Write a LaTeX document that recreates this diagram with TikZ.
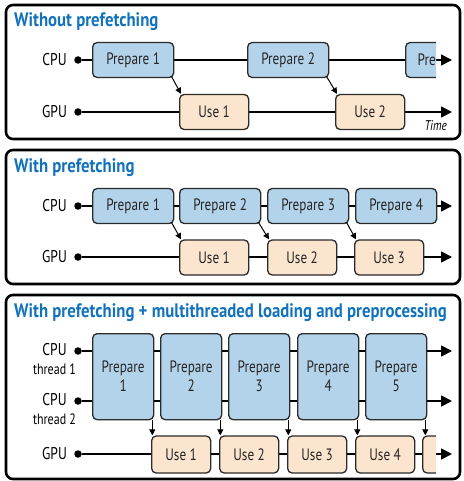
\documentclass[tikz,border=0pt]{standalone}
\usepackage{fontspec}
\setmainfont{PT Sans}[FakeStretch=0.8]
\newfontfamily\headfont{PT Sans}[FakeStretch=0.86]
\usetikzlibrary{arrows.meta,positioning}
\definecolor{titleblue}{HTML}{1273BC}
\definecolor{prepblue}{HTML}{B3D3EA}
\definecolor{useorange}{HTML}{FCE5CE}
\definecolor{edge}{HTML}{2B2B2B}
\tikzset{%
   panel/.style={
      draw=black,
      line width=2.6pt,
      rounded corners=7pt
   },
   title/.style={
      anchor=west,
      inner sep=0pt,
      text=titleblue,
      font=\headfont\bfseries\fontsize{19.5}{22}\selectfont
   },
   box/.style={
      draw=edge,
      line width=1.3pt,
      rounded corners=4.5pt,
      inner sep=0pt,
      text=black!85,
      font=\fontsize{16.5}{18}\selectfont
   },
   prep/.style={
      box, fill=prepblue, minimum width=81pt, minimum height=35pt
   },
   tall/.style={
      box, fill=prepblue, minimum width=61pt, minimum height=86pt,
      align=center, font=\fontsize{16.5}{19}\selectfont
   },
   use/.style={
      box, fill=useorange, minimum width=69pt, minimum height=35pt
   },
   short/.style={
      box, fill=useorange, minimum width=59pt, minimum height=37pt
   },
   dot/.style={
      circle,
      inner sep=0mm,
      outer sep=0mm,
      minimum size=7.5pt,
      fill=black
   },
   lbl/.style={
      inner sep=0pt, font=\fontsize{17}{19}\selectfont
   },
   sub/.style={
      inner sep=0pt, font=\fontsize{15}{17}\selectfont
   },
   track/.style={
      line width=1.7pt,
      -{Triangle[length=11pt,width=11pt]}
   },
   hand/.style={
      line width=1pt,
      -{Triangle[length=6pt,width=6pt]}
   },
}
\begin{document}
\begin{tikzpicture}[x=1pt, y=-1pt]
   \useasboundingbox (0,0) rectangle (463,481);
   % without prefetching
   \draw[panel] (6,5) rectangle (460,139);
   \node[title] (atitle) at (14,22) {Without prefetching};
   \node[lbl] (acpu) at (54.5,60) {CPU};
   \node[lbl] (agpu) at (54.5,112) {GPU};
   \node[dot] (ac0) at (78,60) {};
   \node[dot] (ag0) at (78,112) {};
   \coordinate (ac1) at (452,60);
   \coordinate (ag1) at (452,112);
   \draw[track] (ac0) -- (ac1);
   \draw[track] (ag0) -- (ag1);
   \node[prep, anchor=west] (ap1) at (92,60) {Prepare 1};
   \node[prep, anchor=west] (ap2) at (247,60) {Prepare 2};
   \begin{scope}
      \clip (400,30) rectangle (436,90);
      \node[prep, anchor=west, text width=58pt, inner xsep=12pt, align=left] (ap3) at (405,60) {Pre};
   \end{scope}
   \node[use, anchor=west] (au1) at (179,112) {Use 1};
   \node[use, anchor=west] (au2) at (335,112) {Use 2};
   \draw[hand] ([shift={(-3,-2)}]ap1.south east) -- ([xshift=2pt]au1.north west);
   \draw[hand] ([shift={(-3,-2)}]ap2.south east) -- ([xshift=2pt]au2.north west);
   \node[sub, anchor=east, font=\fontsize{14}{16}\selectfont\itshape] (atime) at (447,126) {Time};

   % with prefetching
   \draw[panel] (6,150) rectangle (460,284);
   \node[title] (btitle) at (14,168) {With prefetching};
   \node[lbl] (bcpu) at (54.5,206) {CPU};
   \node[lbl] (bgpu) at (54.5,257) {GPU};
   \node[dot] (bc0) at (78,206) {};
   \node[dot] (bg0) at (78,257) {};
   \coordinate (bc1) at (452,206);
   \coordinate (bg1) at (452,257);
   \draw[track] (bc0) -- (bc1);
   \draw[track] (bg0) -- (bg1);
   \foreach \i/\x in {1/92, 2/179, 3/267, 4/355}
      \node[prep, anchor=west] (bp\i) at (\x,206) {Prepare \i};
   \foreach \i/\x in {1/179, 2/267, 3/354}
      \node[use, anchor=west] (bu\i) at (\x,257.5) {Use \i};
   \foreach \i in {1,2,3}
      \draw[hand] ([shift={(-3,-2)}]bp\i.south east) -- ([xshift=2pt]bu\i.north west);

   % with prefetching + multithreading
   \draw[panel] (6,295) rectangle (460,479);
   \node[title] (ctitle) at (14,313) {With prefetching + multithreaded loading and preprocessing};
   \node[lbl] (ccpu1) at (54.5,350) {CPU};
   \node[sub] (cth1) at (54.5,369) {thread 1};
   \node[lbl] (ccpu2) at (54.5,400) {CPU};
   \node[sub] (cth2) at (54.5,419) {thread 2};
   \node[lbl] (cgpu) at (54.5,454) {GPU};
   \node[dot] (ca0) at (78,351) {};
   \node[dot] (cb0) at (78,401) {};
   \node[dot] (cg0) at (78,454) {};
   \coordinate (ca1) at (452,351);
   \coordinate (cb1) at (452,401);
   \coordinate (cg1) at (452,454);
   \draw[track] (ca0) -- (ca1);
   \draw[track] (cb0) -- (cb1);
   \draw[track] (cg0) -- (cg1);
   \foreach \i/\x in {1/92, 2/160, 3/228, 4/297, 5/365}
      \node[tall, anchor=north west] (cp\i) at (\x,333) {Prepare\\\i};
   \foreach \i/\x in {1/151, 2/219, 3/287, 4/355}
      \node[short, anchor=west] (cu\i) at (\x,454.5) {Use \i};
   \begin{scope}
      \clip (418,430) rectangle (436,478);
      \node[short, anchor=west] (cu5) at (422,454.5) {};
   \end{scope}
   \foreach \i in {1,...,5}
      \draw[hand] ([xshift=-2pt]cp\i.south east) -- ([xshift=-2pt]cp\i.south east |- cu\i.north);
\end{tikzpicture}
\end{document}
